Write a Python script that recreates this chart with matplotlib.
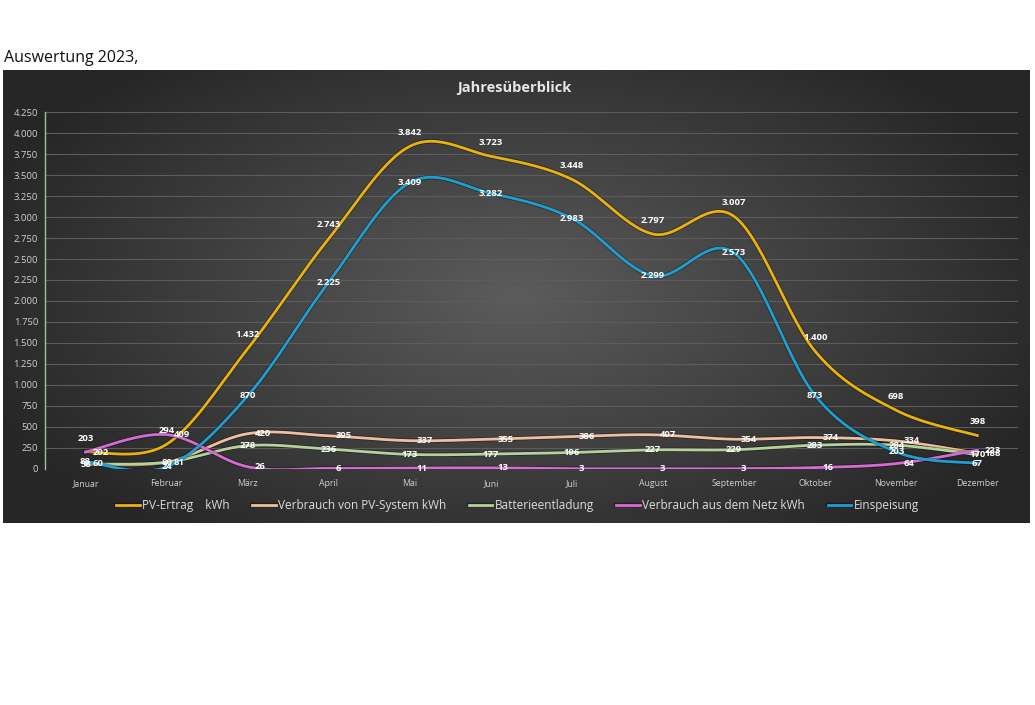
import numpy as np
import matplotlib.pyplot as plt
import matplotlib.patheffects as pe

months = ["Januar", "Februar", "März", "April", "Mai", "Juni", "Juli",
          "August", "September", "Oktober", "November", "Dezember"]

pv_ertrag = [203, 294, 1432, 2743, 3842, 3723, 3448, 2797, 3007, 1400, 698, 398]
verbrauch_pv = [60, 81, 420, 395, 337, 355, 386, 407, 354, 374, 334, 188]
batterie = [58, 80, 278, 236, 173, 177, 196, 227, 229, 283, 284, 170]
netz = [202, 409, 26, 6, 11, 13, 3, 3, 3, 16, 64, 223]
einspeisung = [88, 24, 870, 2225, 3409, 3282, 2983, 2299, 2573, 873, 203, 67]

series_names = ["PV-Ertrag    kWh", "Verbrauch von PV-System kWh", "Batterieentladung",
                "Verbrauch aus dem Netz kWh", "Einspeisung"]
series_data = [pv_ertrag, verbrauch_pv, batterie, netz, einspeisung]
colors = ["#E9B20F", "#F0BFA0", "#B4D29C", "#D76BD4", "#1E9FD0"]
yticks = np.arange(0, 4251, 250)


def de_fmt(v):
    return f"{int(v):,}".replace(",", ".")


def smooth(x, y, n=30):
    # catmull-rom style smoothing like excel's "smoothed line"
    x = np.asarray(x, float)
    y = np.asarray(y, float)
    px = np.concatenate([[x[0]], x, [x[-1]]])
    py = np.concatenate([[y[0]], y, [y[-1]]])
    xs, ys = [], []
    t = np.linspace(0, 1, n)
    for i in range(1, len(px) - 2):
        p0, p1, p2, p3 = [np.array([px[j], py[j]]) for j in (i - 1, i, i + 1, i + 2)]
        c1 = p1 + (p2 - p0) / 6
        c2 = p2 - (p3 - p1) / 6
        b = ((1 - t) ** 3)[:, None] * p1 + (3 * (1 - t) ** 2 * t)[:, None] * c1 \
            + (3 * (1 - t) * t ** 2)[:, None] * c2 + (t ** 3)[:, None] * p2
        xs.append(b[:, 0])
        ys.append(b[:, 1])
    return np.concatenate(xs), np.concatenate(ys)


fig = plt.figure(figsize=(10.35, 7.05), dpi=100)
fig.patch.set_facecolor("white")
plt.rcParams["font.family"] = ["Open Sans", "DejaVu Sans"]

fig.text(0.004, 0.918, "Auswertung 2023,", fontsize=11.5, color="#111111", ha="left", va="center")

# dark chart panel with radial gradient
bg = fig.add_axes([0.003, 0.258, 0.992, 0.643])
gx, gy = np.meshgrid(np.linspace(-1, 1, 400), np.linspace(-1, 1, 300))
r = np.sqrt((gx * 0.9) ** 2 + (gy * 0.75) ** 2)
grad = np.clip(1 - r, 0, 1)
lo, hi = 0.15, 0.36
img = lo + (hi - lo) * grad
bg.imshow(np.dstack([img, img, img]), aspect="auto", extent=[0, 1, 0, 1])
bg.set_axis_off()

fig.text(0.497, 0.875, "Jahresüberblick", fontsize=10.5, fontweight="bold",
         color="#e6e6e6", ha="center", va="center")

ax = fig.add_axes([0.0435, 0.3348, 0.940, 0.5063])
ax.set_facecolor("none")
x = np.arange(len(months))
ax.set_xlim(-0.5, len(months) - 0.5)
ax.set_ylim(0, 4250)
ax.set_yticks(yticks)
ax.set_yticklabels([de_fmt(v) for v in yticks], fontsize=6.8, color="#d0d0d0")
ax.set_xticks(x)
ax.set_xticklabels(months, fontsize=6.3, color="#d0d0d0")
ax.tick_params(length=0, pad=5)
ax.tick_params(axis="x", pad=7)
ax.grid(axis="y", color="#5c5c5c", linewidth=0.8)
ax.set_axisbelow(True)
for s in ["top", "right", "bottom"]:
    ax.spines[s].set_visible(False)
ax.spines["left"].set_color("#9fc48f")
ax.spines["left"].set_linewidth(1.0)

# label placement per series: above, right, center, right, center
label_pos = [((0, 10), "center"), ((5, 0), "left"), ((0, 0), "center"),
             ((5, 0), "left"), ((0, 0), "center")]
for name, data, c, (off, ha) in zip(series_names, series_data, colors, label_pos):
    sx, sy = smooth(x, data)
    ax.plot(sx, sy, color=c, linewidth=2, label=name, zorder=3,
            path_effects=[pe.Stroke(linewidth=3.2, foreground=(0, 0, 0, 0.35)), pe.Normal()])
    for xi, v in zip(x, data):
        ax.annotate(de_fmt(v), (xi, v), xytext=off, textcoords="offset points",
                    ha=ha, va="center", fontsize=6.8, fontweight="bold",
                    color="white", zorder=5)

leg = fig.legend(loc="center", bbox_to_anchor=(0.5, 0.283), ncol=5, frameon=False,
                 fontsize=8.5, handlelength=2.0, columnspacing=1.9, handletextpad=0.2)
for t in leg.get_texts():
    t.set_color("#dcdcdc")

fig.savefig("out.png", dpi=100, facecolor=fig.get_facecolor())
